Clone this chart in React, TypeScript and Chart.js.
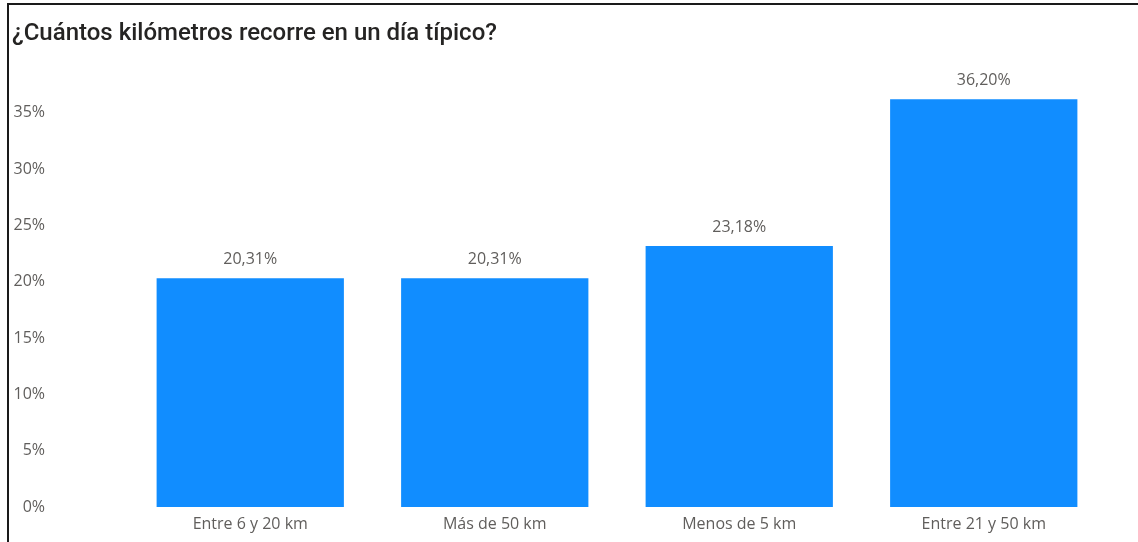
import React, { useEffect, useRef } from "react";
import { Chart, registerables } from "chart.js";

Chart.register(...registerables);

const title = "¿Cuántos kilómetros recorre en un día típico?";
const categories = ["Entre 6 y 20 km", "Más de 50 km", "Menos de 5 km", "Entre 21 y 50 km"];
const values = [20.31, 20.31, 23.18, 36.2];
const yTickStep = 5;
const yMax = 38;

const fmt = (v: number) => v.toFixed(2).replace(".", ",") + "%";

const framePlugin = {
  id: "frame",
  afterDraw(chart: any) {
    const ctx = chart.ctx;
    ctx.save();
    ctx.fillStyle = "#1a1a1a";
    ctx.fillRect(7, 3, chart.width - 7, 2);
    ctx.fillRect(7, 3, 2, chart.height - 3);
    ctx.fillStyle = "#252423";
    ctx.font = "500 24px Roboto";
    ctx.textAlign = "left";
    ctx.textBaseline = "alphabetic";
    ctx.fillText(title, 12, 40);
    ctx.restore();
  },
};

const labelPlugin = {
  id: "barLabels",
  afterDatasetsDraw(chart: any) {
    const ctx = chart.ctx;
    const meta = chart.getDatasetMeta(0);
    ctx.save();
    ctx.fillStyle = "#605E5C";
    ctx.font = "16px 'Open Sans'";
    ctx.textAlign = "center";
    ctx.textBaseline = "alphabetic";
    meta.data.forEach((bar: any, i: number) => {
      ctx.fillText(fmt(values[i]), bar.x, bar.y - 14);
    });
    ctx.restore();
  },
};

export default function App() {
  const ref = useRef<HTMLCanvasElement>(null);
  useEffect(() => {
    const chart = new Chart(ref.current!, {
      type: "bar",
      data: {
        labels: categories,
        datasets: [
          {
            data: values,
            backgroundColor: "#118DFF",
            barPercentage: 0.766,
            categoryPercentage: 1,
          },
        ],
      },
      options: {
        animation: false,
        responsive: false,
        layout: { padding: { top: 79, right: 32, left: 0, bottom: 0 } },
        plugins: { legend: { display: false }, tooltip: { enabled: false } },
        scales: {
          x: {
            grid: { display: false, drawTicks: false },
            border: { display: false },
            ticks: { color: "#605E5C", font: { family: "'Open Sans'", size: 16 }, padding: 8, maxRotation: 0 },
            afterFit: (s: any) => {
              s.height = 35;
              s.paddingLeft = 0;
              s.paddingRight = 0;
            },
          },
          y: {
            min: 0,
            max: yMax,
            grid: { display: false, drawTicks: false },
            border: { display: false },
            ticks: {
              stepSize: yTickStep,
              color: "#605E5C",
              font: { family: "'Open Sans'", size: 16 },
              padding: 83,
              callback: (v: any) => v + "%",
            },
            afterBuildTicks: (s: any) => {
              s.ticks = s.ticks.filter((t: any) => t.value % yTickStep === 0);
            },
            afterFit: (s: any) => {
              s.width = 128;
              s.paddingTop = 0;
              s.paddingBottom = 0;
            },
          },
        },
      },
      plugins: [framePlugin, labelPlugin],
    });
    return () => chart.destroy();
  }, []);
  return (
    <div style={{ position: "fixed", left: 0, top: 0, width: 1138, height: 542, background: "#fff" }}>
      <canvas ref={ref} width={1138} height={542} style={{ display: "block" }} />
    </div>
  );
}
